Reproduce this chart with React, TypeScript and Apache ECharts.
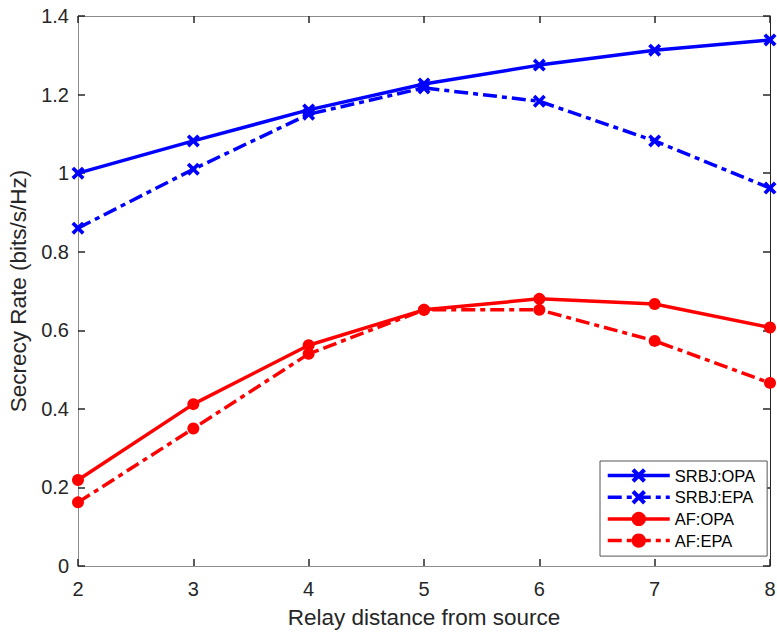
import React, { useEffect, useRef } from "react";
import * as echarts from "echarts";

const distances = [2, 3, 4, 5, 6, 7, 8];
const srbjOpa = [1.0, 1.082, 1.161, 1.227, 1.275, 1.313, 1.339];
const srbjEpa = [0.86, 1.01, 1.15, 1.217, 1.183, 1.082, 0.962];
const afOpa = [0.219, 0.412, 0.562, 0.652, 0.68, 0.667, 0.607];
const afEpa = [0.162, 0.35, 0.54, 0.652, 0.652, 0.573, 0.466];

const seriesNames = ["SRBJ:OPA", "SRBJ:EPA", "AF:OPA", "AF:EPA"];
const xTitle = "Relay distance from source";
const yTitle = "Secrecy Rate (bits/s/Hz)";

const X_SYMBOL =
  "path://M0,2 L2,0 L5,3 L8,0 L10,2 L7,5 L10,8 L8,10 L5,7 L2,10 L0,8 L3,5 Z";

export default function App() {
  const ref = useRef<HTMLDivElement>(null);
  useEffect(() => {
    if (!ref.current) return;
    document.body.style.margin = "0";
    document.body.style.overflow = "hidden";
    const chart = echarts.init(ref.current, undefined, { renderer: "svg" });
    const font = "'Liberation Sans', Arial, Helvetica, sans-serif";
    const dashDot = [14, 5, 5, 5];
    const mk = (
      name: string,
      vals: number[],
      color: string,
      dashed: boolean,
      symbol: string,
      size: number
    ) => ({
      name,
      type: "line",
      xAxisIndex: 0,
      yAxisIndex: 0,
      data: distances.map((d, i) => [d, vals[i]]),
      symbol,
      symbolSize: size,
      showAllSymbol: true,
      clip: false,
      lineStyle: { color, width: 3.5, type: dashed ? dashDot : "solid" },
      itemStyle: { color, borderWidth: 0 },
      emphasis: { disabled: true },
    });
    const axisGray = "#8c8c8c";
    const tickDark = "#262626";
    chart.setOption({
      animation: false,
      textStyle: { fontFamily: font },
      grid: { left: 78, right: 7, top: 16, bottom: 68, containLabel: false, outerBoundsMode: "none" },
      xAxis: [
        {
          type: "value",
          min: 2,
          max: 8,
          interval: 1,
          position: "bottom",
          name: xTitle,
          nameLocation: "middle",
          nameGap: 40,
          nameTextStyle: { fontSize: 22.5, color: tickDark, fontFamily: font },
          axisLine: { show: true, onZero: false, lineStyle: { color: axisGray, width: 1 } },
          axisTick: { show: true, inside: true, length: 7, lineStyle: { color: tickDark, width: 1.5 } },
          axisLabel: { fontSize: 20, color: tickDark, margin: 13, fontFamily: font, showMaxLabel: true, showMinLabel: true },
          splitLine: { show: false },
        },
        {
          type: "value",
          min: 2,
          max: 8,
          interval: 1,
          position: "top",
          axisLine: { show: true, onZero: false, lineStyle: { color: axisGray, width: 1 } },
          axisTick: { show: true, inside: true, length: 7, lineStyle: { color: tickDark, width: 1.5 } },
          axisLabel: { show: false },
          splitLine: { show: false },
        },
      ],
      yAxis: [
        {
          type: "value",
          min: 0,
          max: 1.4,
          interval: 0.2,
          position: "left",
          name: yTitle,
          nameLocation: "middle",
          nameGap: 48,
          nameTextStyle: { fontSize: 22.5, color: tickDark, fontFamily: font },
          axisLine: { show: true, onZero: false, lineStyle: { color: axisGray, width: 1 } },
          axisTick: { show: true, inside: true, length: 7, lineStyle: { color: tickDark, width: 1.5 } },
          axisLabel: { fontSize: 20, color: tickDark, margin: 9, fontFamily: font },
          splitLine: { show: false },
        },
        {
          type: "value",
          min: 0,
          max: 1.4,
          interval: 0.2,
          position: "right",
          axisLine: { show: true, onZero: false, lineStyle: { color: tickDark, width: 1 } },
          axisTick: { show: true, inside: true, length: 7, lineStyle: { color: tickDark, width: 1.5 } },
          axisLabel: { show: false },
          splitLine: { show: false },
        },
      ],
      legend: {
        orient: "vertical",
        left: 600,
        top: 461,
        padding: [6, 12, 7, 6],
        itemWidth: 62,
        itemHeight: 18,
        itemGap: 4.7,
        borderColor: "#555555",
        borderWidth: 1,
        backgroundColor: "#ffffff",
        lineStyle: { width: 3.5 },
        textStyle: { fontSize: 16.5, lineHeight: 17, color: "#000000", fontFamily: font },
        data: seriesNames,
      },
      series: [
        mk(seriesNames[0], srbjOpa, "#0000ff", false, X_SYMBOL, 13),
        mk(seriesNames[1], srbjEpa, "#0000ff", true, X_SYMBOL, 13),
        mk(seriesNames[2], afOpa, "#ff0000", false, "circle", 12),
        mk(seriesNames[3], afEpa, "#ff0000", true, "circle", 12),
      ],
    });
    return () => chart.dispose();
  }, []);
  return <div ref={ref} style={{ width: 777, height: 634 }} />;
}
